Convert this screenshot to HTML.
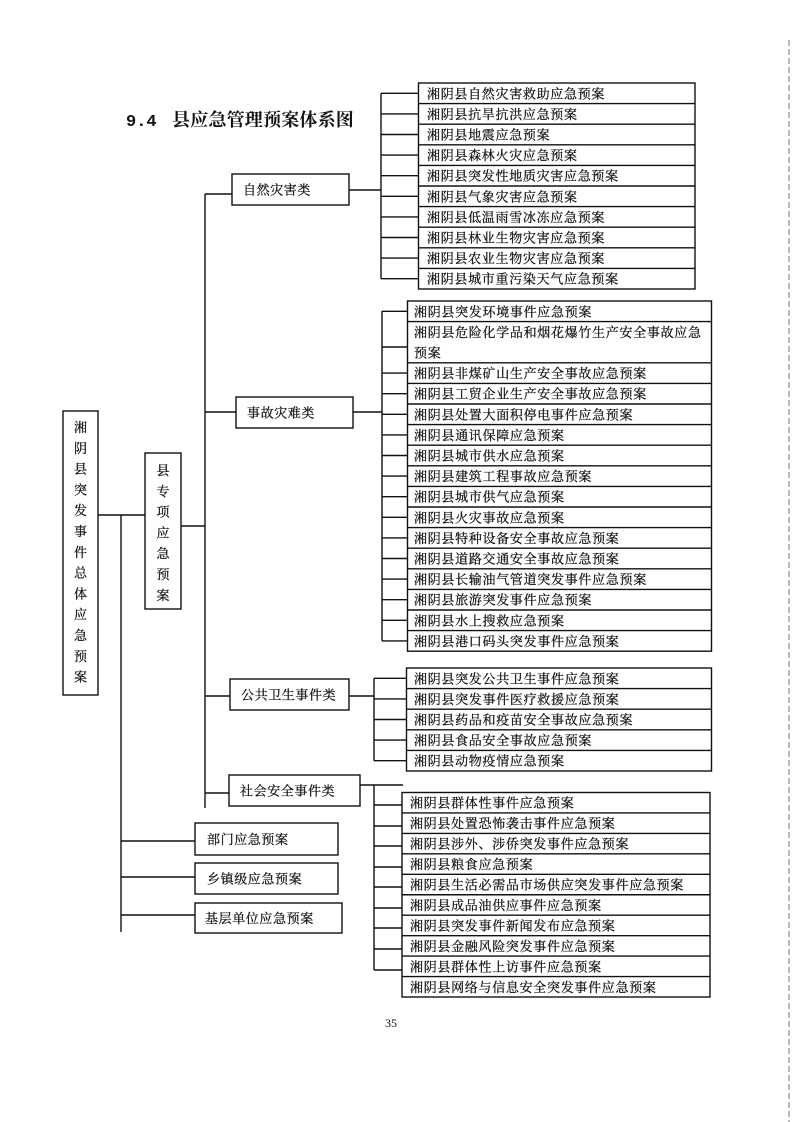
<!DOCTYPE html>
<html><head><meta charset="utf-8">
<style>
html,body{margin:0;padding:0;background:#fff;}
body{width:793px;height:1122px;overflow:hidden;position:relative;}
svg{position:absolute;left:0;top:0;}
text{font-family:"Liberation Serif","Noto Serif CJK SC",serif;fill:#111;}
.t{font-size:13px;letter-spacing:0.7px;stroke:#111;stroke-width:0.25px;}
.c{font-size:13px;letter-spacing:0.6px;stroke:#111;stroke-width:0.25px;}
.v{font-size:13px;stroke:#111;stroke-width:0.25px;}
</style></head><body>
<svg width="793" height="1122" viewBox="0 0 793 1122" xmlns="http://www.w3.org/2000/svg">
<g fill="none" stroke="#111" stroke-width="1.4">
<!-- scan artifact -->
<line x1="789" y1="40" x2="789" y2="1122" stroke="#777" stroke-width="1" stroke-dasharray="6 3"/>

<!-- left main boxes -->
<rect x="63" y="411" width="35" height="284"/>
<rect x="145" y="453" width="36" height="156"/>
<line x1="98" y1="515" x2="145" y2="515"/>
<line x1="121" y1="515" x2="121" y2="932"/>
<line x1="181" y1="526" x2="205" y2="526"/>
<!-- trunk -->
<line x1="205" y1="194" x2="205" y2="808"/>
<line x1="205" y1="194" x2="232" y2="194"/>
<line x1="205" y1="412" x2="236" y2="412"/>
<line x1="205" y1="696" x2="230" y2="696"/>
<line x1="205" y1="793" x2="229" y2="793"/>

<!-- category boxes -->
<rect x="232" y="174" width="117" height="31"/>
<rect x="236" y="397" width="117" height="31"/>
<rect x="230" y="679" width="119" height="31"/>
<rect x="229" y="775" width="131" height="31"/>

<!-- bottom boxes -->
<line x1="121" y1="841" x2="195" y2="841"/>
<line x1="121" y1="877" x2="195" y2="877"/>
<line x1="121" y1="915" x2="195" y2="915"/>
<rect x="195" y="823" width="143" height="32"/>
<rect x="195" y="863" width="143" height="31"/>
<rect x="195" y="903" width="147" height="30"/>

<!-- Group 1 -->
<line x1="349" y1="190" x2="381" y2="190"/>
<line x1="381" y1="93.3" x2="381" y2="278.7"/>
<rect x="418.5" y="83" width="276.5" height="206"/>
<line x1="418.5" y1="103.6" x2="695" y2="103.6"/>
<line x1="418.5" y1="124.2" x2="695" y2="124.2"/>
<line x1="418.5" y1="144.8" x2="695" y2="144.8"/>
<line x1="418.5" y1="165.4" x2="695" y2="165.4"/>
<line x1="418.5" y1="186" x2="695" y2="186"/>
<line x1="418.5" y1="206.6" x2="695" y2="206.6"/>
<line x1="418.5" y1="227.2" x2="695" y2="227.2"/>
<line x1="418.5" y1="247.8" x2="695" y2="247.8"/>
<line x1="418.5" y1="268.4" x2="695" y2="268.4"/>
<line x1="381" y1="93.3" x2="418.5" y2="93.3"/>
<line x1="381" y1="113.9" x2="418.5" y2="113.9"/>
<line x1="381" y1="134.5" x2="418.5" y2="134.5"/>
<line x1="381" y1="155.1" x2="418.5" y2="155.1"/>
<line x1="381" y1="175.7" x2="418.5" y2="175.7"/>
<line x1="381" y1="196.3" x2="418.5" y2="196.3"/>
<line x1="381" y1="216.9" x2="418.5" y2="216.9"/>
<line x1="381" y1="237.5" x2="418.5" y2="237.5"/>
<line x1="381" y1="258.1" x2="418.5" y2="258.1"/>
<line x1="381" y1="278.7" x2="418.5" y2="278.7"/>

<!-- Group 2 -->
<line x1="353" y1="412" x2="382" y2="412"/>
<line x1="382" y1="311.3" x2="382" y2="640.9"/>
<rect x="407.5" y="301" width="304" height="350.2"/>
<line x1="407.5" y1="321.6" x2="711.5" y2="321.6"/>
<line x1="407.5" y1="362.8" x2="711.5" y2="362.8"/>
<line x1="407.5" y1="383.4" x2="711.5" y2="383.4"/>
<line x1="407.5" y1="404" x2="711.5" y2="404"/>
<line x1="407.5" y1="424.6" x2="711.5" y2="424.6"/>
<line x1="407.5" y1="445.2" x2="711.5" y2="445.2"/>
<line x1="407.5" y1="465.8" x2="711.5" y2="465.8"/>
<line x1="407.5" y1="486.4" x2="711.5" y2="486.4"/>
<line x1="407.5" y1="507" x2="711.5" y2="507"/>
<line x1="407.5" y1="527.6" x2="711.5" y2="527.6"/>
<line x1="407.5" y1="548.2" x2="711.5" y2="548.2"/>
<line x1="407.5" y1="568.8" x2="711.5" y2="568.8"/>
<line x1="407.5" y1="589.4" x2="711.5" y2="589.4"/>
<line x1="407.5" y1="610" x2="711.5" y2="610"/>
<line x1="407.5" y1="630.6" x2="711.5" y2="630.6"/>
<line x1="382" y1="311.3" x2="407.5" y2="311.3"/>
<line x1="382" y1="347" x2="407.5" y2="347"/>
<line x1="382" y1="373.1" x2="407.5" y2="373.1"/>
<line x1="382" y1="393.7" x2="407.5" y2="393.7"/>
<line x1="382" y1="414.3" x2="407.5" y2="414.3"/>
<line x1="382" y1="434.9" x2="407.5" y2="434.9"/>
<line x1="382" y1="455.5" x2="407.5" y2="455.5"/>
<line x1="382" y1="476.1" x2="407.5" y2="476.1"/>
<line x1="382" y1="496.7" x2="407.5" y2="496.7"/>
<line x1="382" y1="517.3" x2="407.5" y2="517.3"/>
<line x1="382" y1="537.9" x2="407.5" y2="537.9"/>
<line x1="382" y1="558.5" x2="407.5" y2="558.5"/>
<line x1="382" y1="579.1" x2="407.5" y2="579.1"/>
<line x1="382" y1="599.7" x2="407.5" y2="599.7"/>
<line x1="382" y1="620.3" x2="407.5" y2="620.3"/>
<line x1="382" y1="640.9" x2="407.5" y2="640.9"/>

<!-- Group 3 -->
<line x1="349" y1="696" x2="374" y2="696"/>
<line x1="374" y1="678.3" x2="374" y2="760.7"/>
<rect x="406.5" y="668" width="305" height="103"/>
<line x1="406.5" y1="688.6" x2="711.5" y2="688.6"/>
<line x1="406.5" y1="709.2" x2="711.5" y2="709.2"/>
<line x1="406.5" y1="729.8" x2="711.5" y2="729.8"/>
<line x1="406.5" y1="750.4" x2="711.5" y2="750.4"/>
<line x1="374" y1="678.3" x2="406.5" y2="678.3"/>
<line x1="374" y1="698.9" x2="406.5" y2="698.9"/>
<line x1="374" y1="719.5" x2="406.5" y2="719.5"/>
<line x1="374" y1="740.1" x2="406.5" y2="740.1"/>
<line x1="374" y1="760.7" x2="406.5" y2="760.7"/>

<!-- Group 4 -->
<line x1="360" y1="785" x2="403" y2="785"/>
<line x1="374" y1="785" x2="374" y2="970"/>
<rect x="402" y="792.5" width="308" height="204.5"/>
<line x1="402" y1="812.95" x2="710" y2="812.95"/>
<line x1="402" y1="833.4" x2="710" y2="833.4"/>
<line x1="402" y1="853.85" x2="710" y2="853.85"/>
<line x1="402" y1="874.3" x2="710" y2="874.3"/>
<line x1="402" y1="894.75" x2="710" y2="894.75"/>
<line x1="402" y1="915.2" x2="710" y2="915.2"/>
<line x1="402" y1="935.65" x2="710" y2="935.65"/>
<line x1="402" y1="956.1" x2="710" y2="956.1"/>
<line x1="402" y1="976.55" x2="710" y2="976.55"/>
<line x1="374" y1="805" x2="402" y2="805"/>
<line x1="374" y1="826" x2="402" y2="826"/>
<line x1="374" y1="846" x2="402" y2="846"/>
<line x1="374" y1="867" x2="402" y2="867"/>
<line x1="374" y1="887" x2="402" y2="887"/>
<line x1="374" y1="908" x2="402" y2="908"/>
<line x1="374" y1="928" x2="402" y2="928"/>
<line x1="374" y1="949" x2="402" y2="949"/>
<line x1="374" y1="970" x2="402" y2="970"/>
</g>

<!-- Title -->
<text x="126" y="126" style="font-family:'Liberation Mono','Noto Serif CJK SC',monospace;font-size:17px;font-weight:bold;">9.4</text>
<text x="172" y="126" style="font-size:18px;font-weight:bold;letter-spacing:0.2px;">县应急管理预案体系图</text>

<!-- vertical texts -->
<g class="v" text-anchor="middle">
<text x="80.5" y="432">湘</text>
<text x="80.5" y="452.8">阴</text>
<text x="80.5" y="473.6">县</text>
<text x="80.5" y="494.4">突</text>
<text x="80.5" y="515.2">发</text>
<text x="80.5" y="536">事</text>
<text x="80.5" y="556.8">件</text>
<text x="80.5" y="577.6">总</text>
<text x="80.5" y="598.4">体</text>
<text x="80.5" y="619.2">应</text>
<text x="80.5" y="640">急</text>
<text x="80.5" y="660.8">预</text>
<text x="80.5" y="681.6">案</text>
<text x="163" y="475">县</text>
<text x="163" y="495.8">专</text>
<text x="163" y="516.6">项</text>
<text x="163" y="537.4">应</text>
<text x="163" y="558.2">急</text>
<text x="163" y="579">预</text>
<text x="163" y="599.8">案</text>
</g>

<!-- category texts -->
<g class="c">
<text x="243" y="194.5">自然灾害类</text>
<text x="247" y="417.5">事故灾难类</text>
<text x="241" y="699.5">公共卫生事件类</text>
<text x="240" y="795.5">社会安全事件类</text>
<text x="207" y="844">部门应急预案</text>
<text x="207" y="883.5">乡镇级应急预案</text>
<text x="205" y="923">基层单位应急预案</text>
</g>

<!-- Group 1 texts -->
<g class="t">
<text x="427" y="98.3">湘阴县自然灾害救助应急预案</text>
<text x="427" y="118.9">湘阴县抗旱抗洪应急预案</text>
<text x="427" y="139.5">湘阴县地震应急预案</text>
<text x="427" y="160.1">湘阴县森林火灾应急预案</text>
<text x="427" y="180.7">湘阴县突发性地质灾害应急预案</text>
<text x="427" y="201.3">湘阴县气象灾害应急预案</text>
<text x="427" y="221.9">湘阴县低温雨雪冰冻应急预案</text>
<text x="427" y="242.5">湘阴县林业生物灾害应急预案</text>
<text x="427" y="263.1">湘阴县农业生物灾害应急预案</text>
<text x="427" y="283.7">湘阴县城市重污染天气应急预案</text>
</g>

<!-- Group 2 texts -->
<g class="t">
<text x="414" y="316.3">湘阴县突发环境事件应急预案</text>
<text x="414" y="336.9">湘阴县危险化学品和烟花爆竹生产安全事故应急</text>
<text x="414" y="357.5">预案</text>
<text x="414" y="378.1">湘阴县非煤矿山生产安全事故应急预案</text>
<text x="414" y="398.7">湘阴县工贸企业生产安全事故应急预案</text>
<text x="414" y="419.3">湘阴县处置大面积停电事件应急预案</text>
<text x="414" y="439.9">湘阴县通讯保障应急预案</text>
<text x="414" y="460.5">湘阴县城市供水应急预案</text>
<text x="414" y="481.1">湘阴县建筑工程事故应急预案</text>
<text x="414" y="501.7">湘阴县城市供气应急预案</text>
<text x="414" y="522.3">湘阴县火灾事故应急预案</text>
<text x="414" y="542.9">湘阴县特种设备安全事故应急预案</text>
<text x="414" y="563.5">湘阴县道路交通安全事故应急预案</text>
<text x="414" y="584.1">湘阴县长输油气管道突发事件应急预案</text>
<text x="414" y="604.7">湘阴县旅游突发事件应急预案</text>
<text x="414" y="625.3">湘阴县水上搜救应急预案</text>
<text x="414" y="645.9">湘阴县港口码头突发事件应急预案</text>
</g>

<!-- Group 3 texts -->
<g class="t">
<text x="414" y="683.3">湘阴县突发公共卫生事件应急预案</text>
<text x="414" y="703.9">湘阴县突发事件医疗救援应急预案</text>
<text x="414" y="724.5">湘阴县药品和疫苗安全事故应急预案</text>
<text x="414" y="745.1">湘阴县食品安全事故应急预案</text>
<text x="414" y="765.7">湘阴县动物疫情应急预案</text>
</g>

<!-- Group 4 texts -->
<g class="t">
<text x="410" y="807.7">湘阴县群体性事件应急预案</text>
<text x="410" y="828.2">湘阴县处置恐怖袭击事件应急预案</text>
<text x="410" y="848.6">湘阴县涉外、涉侨突发事件应急预案</text>
<text x="410" y="869.1">湘阴县粮食应急预案</text>
<text x="410" y="889.5">湘阴县生活必需品市场供应突发事件应急预案</text>
<text x="410" y="910">湘阴县成品油供应事件应急预案</text>
<text x="410" y="930.4">湘阴县突发事件新闻发布应急预案</text>
<text x="410" y="950.9">湘阴县金融风险突发事件应急预案</text>
<text x="410" y="971.3">湘阴县群体性上访事件应急预案</text>
<text x="410" y="991.8">湘阴县网络与信息安全突发事件应急预案</text>
</g>

<text x="391" y="1027" text-anchor="middle" style="font-size:12px;">35</text>
</svg>
</body></html>
